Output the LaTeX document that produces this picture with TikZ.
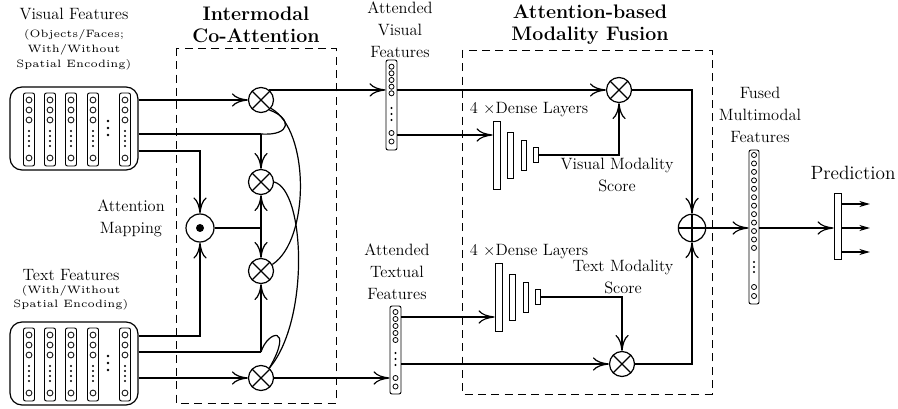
\documentclass[tikz,border=0pt]{standalone}
\usetikzlibrary{arrows.meta, positioning}

% small, wide caption text under the feature titles
\newcommand{\capsmall}[1]{\scalebox{1.6}{\tiny\def\arraystretch{1.17}\begin{tabular}{@{}c@{}}#1\end{tabular}}}

\tikzset{
  lbl/.style={align=center, font=\fontsize{12.3}{16.5}\selectfont},
  ttl/.style={align=center, font=\fontsize{14.7}{16.5}\selectfont\bfseries},
  dashbox/.style={line width=0.7pt, dash pattern=on 6pt off 4pt},
  featbox/.style={draw, rounded corners=9pt, minimum width=96pt, minimum height=62.25pt, inner sep=0pt},
  opnode/.style={circle, draw, inner sep=0pt, minimum size=18.75pt},
  mulnode/.style={opnode, path picture={
      \draw (path picture bounding box.south west) -- (path picture bounding box.north east)
            (path picture bounding box.north west) -- (path picture bounding box.south east);}},
  addnode/.style={opnode, minimum size=20.5pt, path picture={
      \draw (path picture bounding box.west) -- (path picture bounding box.east)
            (path picture bounding box.north) -- (path picture bounding box.south);}},
  dotnode/.style={opnode, minimum size=21pt, path picture={
      \fill (path picture bounding box.center) circle[radius=3pt];}},
  vecbox/.style={draw, rounded corners=1.5pt, inner sep=0pt, line width=0.7pt},
  layer/.style={draw, inner sep=0pt, line width=0.7pt},
  outarrow/.style={-{Stealth[length=8pt,width=4.5pt,inset=2.5pt]}},
}

\begin{document}
\begin{tikzpicture}[x=0.75pt, y=-0.75pt, line width=0.9pt,
    >={Computer Modern Rightarrow[length=12pt,width=10pt]}]
\useasboundingbox (0,0) rectangle (898,409);

% Block titles and dashed frames
\node[ttl] (titleCoAtt) at (256,25) {Intermodal\\Co-Attention};
\node[ttl] (titleFusion) at (590,25) {Attention-based\\Modality Fusion};
\draw[dashbox] (176,48) rectangle (336,403);
\draw[dashbox] (462,50) rectangle (712,394);

% Input feature blocks
\node[lbl] (visualLbl) at (74,14) {Visual Features};
\node[lbl] (visualSub) at (74,49.5) {\capsmall{(Objects/Faces;\\With/Without\\Spatial Encoding)}};
\node[lbl] (textLbl) at (71,275) {Text Features};
\node[lbl] (textSub) at (71,297.5) {\capsmall{(With/Without\\Spatial Encoding)}};

\node[featbox] (visualBox) at (74,128.5) {};
\node[featbox] (textBox) at (74,363.5) {};
\foreach \yo in {0,235} {
  \foreach \cx in {29,50,71,93,125} {
    \draw[line width=0.7pt, rounded corners=1.5pt] (\cx-5.5,93+\yo) rectangle (\cx+5.5,166+\yo);
    \foreach \cy in {100,110,120,158}
      \draw[line width=0.6pt] (\cx,\cy+\yo) circle[radius=2.2pt];
    \foreach \cy in {131,136,141,146}
      \fill (\cx,\cy+\yo) circle[radius=0.9pt];
  }
  \foreach \cy in {121,128,135}
    \fill (108,\cy+\yo) circle[radius=1pt];
}

% Co-attention operators
\node[mulnode] (mulA) at (261,100) {};
\node[mulnode] (mulB) at (261,182) {};
\node[mulnode] (mulC) at (261,271) {};
\node[mulnode] (mulD) at (261,378) {};
\node[dotnode] (mapNode) at (200,228) {};
\node[lbl] (mapLbl) at (131,218) {Attention\\Mapping};

\coordinate (jointB) at (261,134);
\coordinate (jointM) at (200,151);
\coordinate (jointMid) at (261,228);
\coordinate (jointTM) at (200,336);
\coordinate (jointTC) at (261,352);

% visual side
\draw[->] (visualBox.east |- mulA) -- (mulA);
\draw (visualBox.east |- jointB) -- (jointB);
\draw[->] (jointB) -- (mulB);
\draw[->] (visualBox.east |- jointM) -| (mapNode);
% text side
\draw[->] (textBox.east |- jointTM) -| (mapNode);
\draw (textBox.east |- jointTC) -- (jointTC);
\draw[->] (jointTC) -- (mulC);
\draw[->] (textBox.east |- mulD) -- (mulD);
% attention map
\draw (mapNode) -- (jointMid);
\draw[->] (jointMid) -- (mulB);
\draw[->] (jointMid) -- (mulC);
% curved links
\draw (jointB) .. controls (292,136) and (292,118) .. (mulA.-50);
\draw (mulA.-40) .. controls (310,130) and (310,240) .. (mulC.30);
\draw (mulB.east) .. controls (305,190) and (310,320) .. (mulD.50);
\draw (jointTC) .. controls (268,330) and (294,325) .. (mulD.50);

% Attended features
\node[vecbox, minimum width=8.25pt, minimum height=67.5pt] (attVisual) at (391.5,105) {};
\foreach \cy in {66.7,73.3,80,86.7,93.3,133,141.5}
  \draw[line width=0.6pt] (391.5,\cy) circle[radius=1.9pt];
\foreach \cy in {108,114,120}
  \fill (391.5,\cy) circle[radius=0.9pt];
\node[lbl] (attVisualLbl) at (400,30) {Attended\\Visual\\Features};

\node[vecbox, minimum width=8.25pt, minimum height=66pt] (attText) at (395.5,350) {};
\foreach \cy in {312,319,326,333,340,378,386.5}
  \draw[line width=0.6pt] (395.5,\cy) circle[radius=1.9pt];
\foreach \cy in {353,359,365}
  \fill (395.5,\cy) circle[radius=0.9pt];
\node[lbl] (attTextLbl) at (397,272) {Attended\\Textual\\Features};

\draw[->] (mulA.50) -- (mulA.50 -| attVisual.west);
\draw[->] (mulD.east) -- (attText.west |- mulD);

% Modality fusion
\node[mulnode] (mulV) at (619,90) {};
\node[mulnode] (mulT) at (622,364) {};
\node[addnode] (addNode) at (692,228) {};

\foreach \i/\dx/\w/\h in {1/0/5.25/51, 2/13.5/4.5/34.5, 3/27/3.75/22.5, 4/39/3.75/11.25} {
  \node[layer, minimum width=\w pt, minimum height=\h pt] (denseV\i) at (496.5+\dx,155) {};
  \node[layer, minimum width=\w pt, minimum height=\h pt] (denseT\i) at (498.5+\dx,297) {};
}
\node[lbl] (denseVLbl) at (529,110) {4 $\times$Dense Layers};
\node[lbl] (denseTLbl) at (529,252) {4 $\times$Dense Layers};
\node[lbl] (scoreVLbl) at (617,175) {Visual Modality\\Score};
\node[lbl] (scoreTLbl) at (623,277) {Text Modality\\Score};

\coordinate (attVisualLow) at (397,135);
\coordinate (attTextHigh) at (401,317);
\draw[->] (attVisual.east |- mulV) -- (mulV);
\draw[->] (attVisualLow) -- (attVisualLow -| denseV1.west);
\draw[->] (attTextHigh) -- (attTextHigh -| denseT1.west);
\draw[->] (attText.east |- mulT) -- (mulT);
\draw[->] (denseV4.east) -| (mulV.south);
\draw[->] (denseT4.east) -| (mulT.north);
\draw[->] (mulV.east) -| (addNode.north);
\draw[->] (mulT.east) -| (addNode.south);

% Fused features and prediction
\node[vecbox, minimum width=7.5pt, minimum height=115.5pt] (fused) at (754,227) {};
\foreach \i in {0,...,11}
  \draw[line width=0.6pt] (754,155+8.45*\i) circle[radius=1.9pt];
\foreach \cy in {262,267,272}
  \fill (754,\cy) circle[radius=0.9pt];
\foreach \cy in {287,296}
  \draw[line width=0.6pt] (754,\cy) circle[radius=1.9pt];
\node[lbl] (fusedLbl) at (760,115) {Fused\\Multimodal\\Features};

\node[layer, minimum width=5.25pt, minimum height=49.5pt] (predBox) at (837.5,226) {};
\node[lbl, font=\fontsize{14.4}{16}\selectfont] (predLbl) at (853,173) {Prediction};

\draw[->] (addNode.east) -- (fused.west |- addNode);
\draw[->] (fused.east |- addNode) -- (predBox.west |- addNode);
\foreach \i/\py in {1/204, 2/228, 3/252} {
  \coordinate (predOut\i) at (870,\py);
  \draw[outarrow] (predBox.east |- predOut\i) -- (predOut\i);
}
\end{tikzpicture}
\end{document}
